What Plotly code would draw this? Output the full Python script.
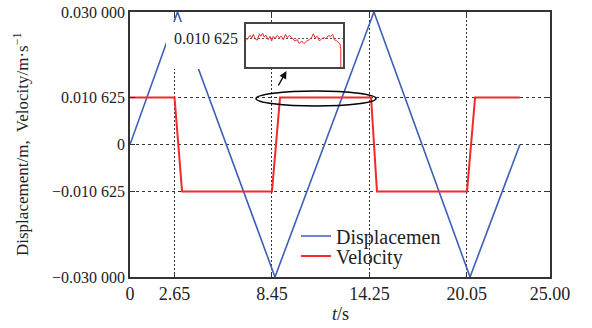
import plotly.graph_objects as go

# ---------------- data ----------------
disp_t = [0, 2.83, 8.63, 14.52, 20.24, 23.21]
disp_v = [0, 0.03, -0.03, 0.03, -0.03, 0]

vel_t = [0, 2.65, 3.10, 8.45, 8.93, 14.35, 14.70, 20.06, 20.54, 23.21]
vel_v = [0.010625, 0.010625, -0.010625, -0.010625, 0.010625, 0.010625,
         -0.010625, -0.010625, 0.010625, 0.010625]

# zoomed detail of the velocity plateau (inset)
inset_t = [8.93, 9.12, 9.22, 9.31, 9.41, 9.54, 9.66, 9.75, 9.85, 9.94, 10.04,
           10.16, 10.27, 10.37, 10.46, 10.58, 10.69, 10.81, 10.93, 11.04, 11.16,
           11.27, 11.39, 11.58, 11.71, 11.85, 11.96, 12.10, 12.23, 12.39, 12.54,
           12.68, 12.77, 12.87, 13.00, 13.12, 13.25, 13.39, 13.50, 13.64, 13.77,
           13.89, 13.98, 14.12, 14.23, 14.31, 14.35, 14.36]
inset_v = [0.010617, 0.010642, 0.010630, 0.010647, 0.010625, 0.010617, 0.010650,
           0.010637, 0.010653, 0.010633, 0.010643, 0.010620, 0.010637, 0.010613,
           0.010637, 0.010625, 0.010642, 0.010630, 0.010638, 0.010620, 0.010647,
           0.010630, 0.010642, 0.010625, 0.010613, 0.010620, 0.010600, 0.010613,
           0.010600, 0.010613, 0.010620, 0.010633, 0.010650, 0.010630, 0.010637,
           0.010613, 0.010625, 0.010630, 0.010625, 0.010640, 0.010637, 0.010647,
           0.010620, 0.010613, 0.010603, 0.010597, 0.010570, 0.010400]

x_ticks = [0, 2.65, 8.45, 14.25, 20.05, 25]
x_ticktext = ["0", "2.65", "8.45", "14.25", "20.05", "25.00"]
y_ticks = [-0.03, -0.010625, 0, 0.010625, 0.03]
y_ticktext = ["\u22120.030 000", "\u22120.010 625", "0", "0.010 625", "0.030 000"]

BLUE = "#3d5fb8"
RED = "#f22a2a"
AX = "#333333"
FONT = "Liberation Serif"

# plot area in pixels: left 130, right 550, top 12, bottom 277
L, R, T, B = 130, 550, 12, 277
def px(x):
    return (x - L) / (R - L)
def py(y):
    return (B - y) / (B - T)

fig = go.Figure()
fig.add_trace(go.Scatter(x=disp_t, y=disp_v, mode="lines", name="Displacemen",
                         line=dict(color=BLUE, width=1.6), legend="legend"))
fig.add_trace(go.Scatter(x=vel_t, y=vel_v, mode="lines", name="Velocity",
                         line=dict(color=RED, width=2), legend="legend2"))
fig.add_trace(go.Scatter(x=inset_t, y=inset_v, mode="lines", showlegend=False,
                         line=dict(color=RED, width=1), xaxis="x2", yaxis="y2"))

leg_common = dict(xanchor="left", yanchor="middle", bgcolor="rgba(0,0,0,0)",
                  font=dict(size=20, family=FONT, color="#222222"))

fig.update_layout(
    width=592, height=328,
    margin=dict(l=L, r=592 - R, t=T, b=328 - B, pad=0, autoexpand=False),
    paper_bgcolor="white", plot_bgcolor="white",
    font=dict(family=FONT, color="#222222", size=16),
    showlegend=True,
    legend=dict(x=px(296), y=py(236), **leg_common),
    legend2=dict(x=px(296), y=py(256), **leg_common),
    xaxis=dict(range=[0, 25], tickvals=x_ticks, ticktext=x_ticktext,
               automargin=False,
               showgrid=True, griddash="2px,2px", gridcolor=AX, gridwidth=1,
               showline=True, mirror="ticks", linecolor=AX, linewidth=1.5,
               ticks="inside", ticklen=5, tickcolor=AX, zeroline=False,
               tickfont=dict(size=18, family=FONT)),
    yaxis=dict(range=[-0.03, 0.03], tickvals=y_ticks, ticktext=y_ticktext,
               automargin=False,
               showgrid=True, griddash="3px,3px", gridcolor=AX, gridwidth=1,
               showline=True, mirror="ticks", linecolor=AX, linewidth=1.5,
               ticks="inside", ticklen=5, tickcolor=AX, zeroline=False,
               tickfont=dict(size=16, family=FONT)),
    xaxis2=dict(domain=[px(246), px(343)], range=[8.89, 14.48], anchor="y2",
                automargin=False,
                showgrid=False, showticklabels=False, ticks="", zeroline=False,
                showline=True, mirror=True, linecolor="#444444", linewidth=1.5),
    yaxis2=dict(domain=[py(67), py(24)], range=[0.01048, 0.0107], anchor="x2",
                automargin=False,
                tickvals=[0.010625], showgrid=True, griddash="2px,2px",
                gridcolor="#555555", gridwidth=1, showticklabels=False, ticks="",
                zeroline=False, showline=True, mirror=True,
                linecolor="#444444", linewidth=1.5),
)

# white mask behind the inset label
fig.add_shape(type="rect", xref="paper", yref="paper", layer="above",
              x0=px(166), x1=px(244), y0=py(69), y1=py(22),
              fillcolor="white", line=dict(width=0))
# ellipse highlighting the plateau
fig.add_shape(type="circle", xref="paper", yref="paper",
              x0=px(256), x1=px(376), y0=py(106), y1=py(91),
              line=dict(color="black", width=1.5))

fig.add_annotation(xref="paper", yref="paper", x=px(206), y=py(39),
                   xanchor="center", yanchor="middle",
                   text="0.010 625", showarrow=False,
                   font=dict(size=16, family=FONT, color="#222222"))
# arrow from ellipse to inset
fig.add_annotation(xref="paper", yref="paper", x=px(286.5), y=py(71),
                   ax=-9, ay=16, text="", showarrow=True, arrowhead=2,
                   arrowsize=1, arrowwidth=1.5, arrowcolor="#111111")

# axis titles
fig.add_annotation(xref="paper", yref="paper", x=px(21), y=py(144),
                   text="Displacement/m,  Velocity/m\u00b7s<sup>\u22121</sup>",
                   textangle=-90, showarrow=False, xanchor="center", yanchor="middle",
                   font=dict(size=17, family=FONT, color="#222222"))
fig.add_annotation(xref="paper", yref="paper", x=0.5, y=py(314),
                   xanchor="center", yanchor="middle",
                   text="<i>t</i>/s", showarrow=False,
                   font=dict(size=18, family=FONT, color="#222222"))

fig.write_html("out.html", config={"displayModeBar": False},
               post_script="document.body.style.margin='0';")
